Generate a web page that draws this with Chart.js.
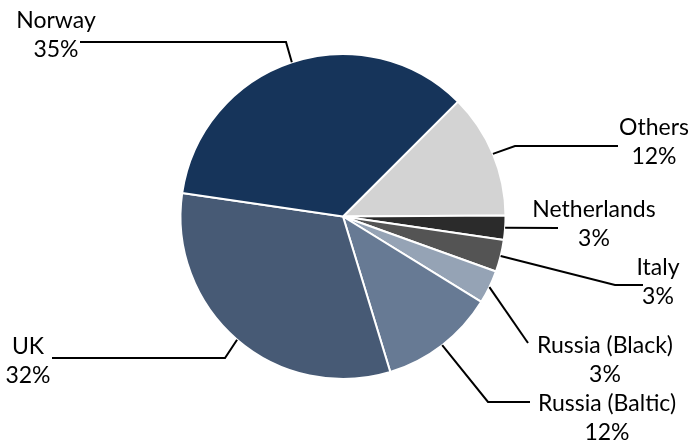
<!DOCTYPE html>
<html>
<head>
<meta charset="utf-8">
<script src="https://cdn.jsdelivr.net/npm/chart.js@4/dist/chart.umd.min.js"></script>
<style>
  html, body { margin: 0; padding: 0; background: #fff; }
  #c { display: block; }
</style>
</head>
<body>
<canvas id="c" width="692" height="441"></canvas>
<script>
// slices, clockwise from the top-right edge of Norway
const countries = ['Others', 'Netherlands', 'Italy', 'Russia (Black)', 'Russia (Baltic)', 'UK', 'Norway'];
const shares = [12.4, 2.4, 3.2, 3.3, 11.5, 32.0, 35.2];
const shareLabels = ['12%', '3%', '3%', '3%', '12%', '32%', '35%'];
const colours = ['#d3d3d3', '#2b2b2b', '#545454', '#95a3b5', '#677a94', '#475a75', '#16345a'];

// where each label sits and how its leader line bends
const labelLayout = [
  { tx: 654, ty: 128, path: [[515, 146], [618, 146]] },
  { tx: 594, ty: 210, path: [[558, 228]] },
  { tx: 658, ty: 268, path: [[615, 285], [643, 285]] },
  { tx: 605, ty: 346, path: [[528, 343]] },
  { tx: 607, ty: 404, path: [[488, 402], [530, 402]] },
  { tx: 28,  ty: 347, path: [[225, 358], [52, 358]] },
  { tx: 56,  ty: 21,  path: [[286, 42], [80, 42]] }
];

const leaderLabels = {
  id: 'leaderLabels',
  afterDraw(chart) {
    const ctx = chart.ctx;
    const meta = chart.getDatasetMeta(0);
    ctx.save();
    meta.data.forEach((arc, i) => {
      const p = arc.getProps(['x', 'y', 'startAngle', 'endAngle', 'outerRadius'], true);
      const mid = (p.startAngle + p.endAngle) / 2;
      const lay = labelLayout[i];
      ctx.beginPath();
      ctx.moveTo(p.x + Math.cos(mid) * p.outerRadius, p.y + Math.sin(mid) * p.outerRadius);
      lay.path.forEach(pt => ctx.lineTo(pt[0], pt[1]));
      ctx.strokeStyle = '#000';
      ctx.lineWidth = 2;
      ctx.stroke();

      ctx.fillStyle = '#000';
      ctx.font = '23px Lato';
      ctx.textAlign = 'center';
      ctx.textBaseline = 'middle';
      ctx.fillText(countries[i], lay.tx, lay.ty);
      ctx.fillText(shareLabels[i], lay.tx, lay.ty + 29);
    });
    ctx.restore();
  }
};

new Chart(document.getElementById('c'), {
  type: 'pie',
  data: {
    labels: countries,
    datasets: [{
      data: shares,
      backgroundColor: colours,
      borderColor: '#fff',
      borderWidth: 2
    }]
  },
  options: {
    responsive: false,
    animation: false,
    rotation: 45,
    layout: { padding: { left: 179, right: 185, top: 53, bottom: 61 } },
    plugins: {
      legend: { display: false },
      tooltip: { enabled: false }
    }
  },
  plugins: [leaderLabels]
});
</script>
</body>
</html>
